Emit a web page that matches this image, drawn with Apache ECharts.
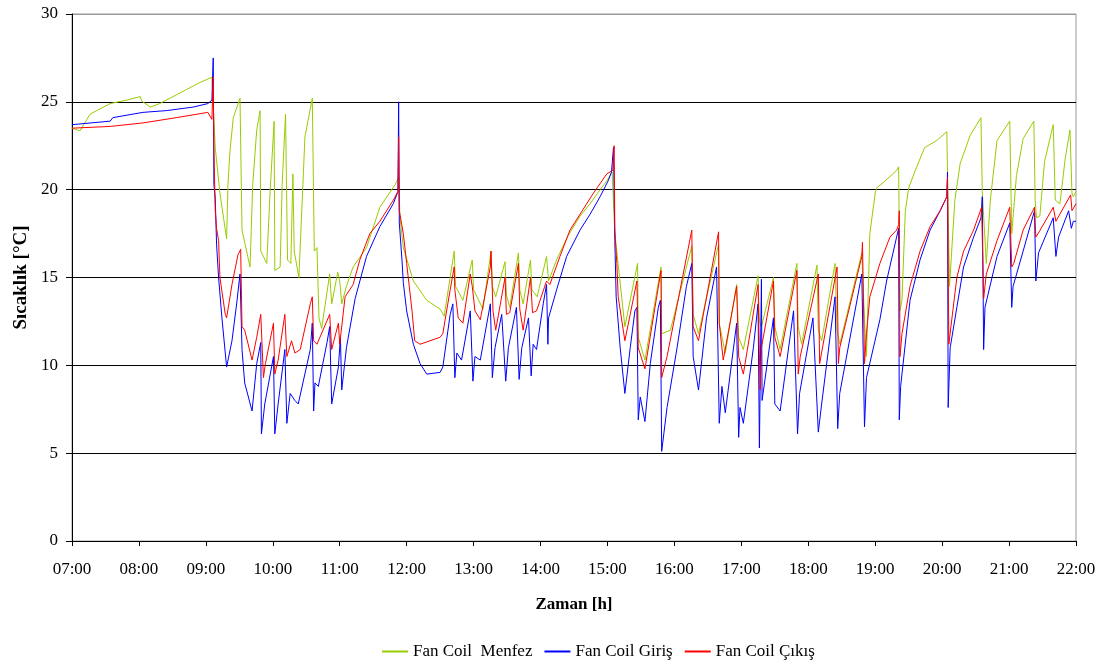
<!DOCTYPE html>
<html>
<head>
<meta charset="utf-8">
<script src="https://cdn.jsdelivr.net/npm/echarts@6/dist/echarts.min.js"></script>
<style>
html,body{margin:0;padding:0;background:#fff;}
#chart{width:1103px;height:664px;}
</style>
</head>
<body>
<div id="chart"></div>
<script>
// Time in decimal hours, temperature in °C
const seriesNames = ['Fan Coil  Menfez', 'Fan Coil Giriş', 'Fan Coil Çıkış'];
const xTickHours = [7,8,9,10,11,12,13,14,15,16,17,18,19,20,21,22];
const yTicks = [0,5,10,15,20,25,30];

const menfez = [[7.00,23.5],[7.12,23.35],[7.27,24.3],[7.57,24.9],[7.82,25.1],[8.02,25.3],[8.04,25.05],[8.17,24.7],[8.31,24.9],[8.41,25.1],[8.71,25.7],[8.91,26.1],[9.09,26.4],[9.11,26.5],[9.14,22.4],[9.21,19.8],[9.31,17.2],[9.33,20.3],[9.36,22.2],[9.41,24.1],[9.51,25.2],[9.54,17.7],[9.66,15.6],[9.70,20.3],[9.76,23.4],[9.81,24.5],[9.82,16.5],[9.91,15.8],[9.96,19.9],[10.02,23.9],[10.03,15.4],[10.11,15.6],[10.14,20.3],[10.19,24.3],[10.22,16.0],[10.27,15.8],[10.30,20.9],[10.32,16.5],[10.39,15.0],[10.45,20.3],[10.48,23.0],[10.59,25.2],[10.62,16.5],[10.66,16.7],[10.69,12.7],[10.73,12.1],[10.85,15.2],[10.88,13.5],[10.97,15.3],[11.00,14.8],[11.03,13.5],[11.10,14.5],[11.20,15.6],[11.40,16.7],[11.60,19.0],[11.83,20.3],[11.88,20.7],[11.90,18.4],[11.95,16.7],[12.10,14.8],[12.30,13.7],[12.50,13.2],[12.56,12.8],[12.71,16.5],[12.73,14.5],[12.84,13.7],[12.98,16.0],[13.00,14.3],[13.14,13.2],[13.26,16.5],[13.28,14.5],[13.33,13.9],[13.47,15.9],[13.49,14.0],[13.54,13.3],[13.67,16.4],[13.69,14.3],[13.74,13.5],[13.85,16.0],[13.87,14.3],[13.95,13.9],[14.09,16.2],[14.12,14.8],[14.24,16.0],[14.40,17.3],[14.59,18.5],[14.74,19.2],[14.89,20.0],[14.99,20.5],[15.07,21.0],[15.09,21.1],[15.11,17.5],[15.26,12.2],[15.45,15.8],[15.46,11.6],[15.56,10.3],[15.80,15.6],[15.81,11.8],[15.94,12.0],[16.26,16.8],[16.28,12.9],[16.36,11.8],[16.66,16.9],[16.67,12.4],[16.76,10.7],[16.93,14.6],[16.96,11.6],[17.03,10.9],[17.25,15.1],[17.27,12.5],[17.30,12.2],[17.48,15.0],[17.50,12.2],[17.58,10.9],[17.83,15.8],[17.85,12.2],[17.90,11.2],[18.13,15.7],[18.15,12.0],[18.20,11.4],[18.40,15.8],[18.43,12.0],[18.47,11.2],[18.80,16.4],[18.84,12.6],[18.87,10.5],[18.92,17.5],[19.00,19.8],[19.02,20.1],[19.12,20.4],[19.32,21.1],[19.35,21.3],[19.37,13.1],[19.40,13.7],[19.45,18.8],[19.50,20.1],[19.62,21.3],[19.74,22.4],[19.92,22.8],[20.07,23.3],[20.11,14.5],[20.19,19.4],[20.27,21.5],[20.42,23.1],[20.58,24.1],[20.60,19.9],[20.66,15.8],[20.72,19.4],[20.82,22.8],[21.01,23.9],[21.04,17.5],[21.11,20.8],[21.21,22.9],[21.37,23.9],[21.39,19.4],[21.41,18.4],[21.46,18.5],[21.53,21.6],[21.66,23.7],[21.69,19.4],[21.76,19.2],[21.84,21.8],[21.91,23.4],[21.94,19.8],[21.96,19.6],[22.00,19.9]];

const giris = [[7.00,23.7],[7.57,23.9],[7.61,24.1],[8.06,24.4],[8.41,24.5],[8.81,24.7],[9.03,24.9],[9.09,25.1],[9.11,27.5],[9.12,20.3],[9.14,19.5],[9.16,16.9],[9.19,15.0],[9.24,12.7],[9.31,9.9],[9.39,11.4],[9.46,13.5],[9.51,15.2],[9.54,10.9],[9.58,9.0],[9.69,7.4],[9.76,10.1],[9.82,11.3],[9.83,6.1],[9.88,7.8],[10.01,10.5],[10.03,6.1],[10.08,7.8],[10.18,10.9],[10.21,6.7],[10.26,8.4],[10.33,8.0],[10.38,7.8],[10.56,10.9],[10.59,12.4],[10.61,7.4],[10.63,9.0],[10.68,8.8],[10.81,11.3],[10.85,12.2],[10.88,7.8],[10.98,9.9],[11.01,11.6],[11.03,8.6],[11.10,11.0],[11.23,13.8],[11.40,16.2],[11.60,17.9],[11.80,19.2],[11.87,19.9],[11.88,25.0],[11.89,18.1],[11.93,16.0],[11.95,14.7],[12.00,13.1],[12.10,11.2],[12.20,10.1],[12.30,9.5],[12.50,9.6],[12.54,9.9],[12.65,12.9],[12.69,13.5],[12.72,9.3],[12.75,10.7],[12.82,10.3],[12.95,13.1],[12.99,9.1],[13.02,10.5],[13.10,10.3],[13.25,13.5],[13.28,9.3],[13.32,11.0],[13.42,12.9],[13.48,9.1],[13.52,11.0],[13.64,13.3],[13.68,9.2],[13.72,11.0],[13.82,12.7],[13.86,9.4],[13.89,11.2],[13.94,10.9],[14.04,13.5],[14.09,14.6],[14.11,11.2],[14.12,12.7],[14.24,14.3],[14.39,16.2],[14.59,17.7],[14.74,18.6],[14.89,19.6],[15.01,20.5],[15.06,21.0],[15.09,22.4],[15.11,17.1],[15.13,13.9],[15.19,11.0],[15.26,8.4],[15.34,11.0],[15.41,13.1],[15.44,13.3],[15.46,6.9],[15.49,8.2],[15.56,6.8],[15.64,10.1],[15.76,13.3],[15.79,13.7],[15.81,5.1],[15.89,7.6],[16.04,11.0],[16.18,14.5],[16.26,15.8],[16.28,10.5],[16.36,8.6],[16.48,12.7],[16.63,15.6],[16.67,6.7],[16.71,8.8],[16.76,7.3],[16.93,12.4],[16.96,5.9],[16.98,7.6],[17.03,6.7],[17.18,11.0],[17.25,13.5],[17.27,5.3],[17.30,14.9],[17.31,8.0],[17.48,12.7],[17.50,7.8],[17.58,7.4],[17.78,13.1],[17.84,6.1],[17.87,8.4],[18.07,12.7],[18.15,6.2],[18.20,7.8],[18.40,13.9],[18.44,6.4],[18.47,8.4],[18.80,15.2],[18.84,6.5],[18.87,9.3],[19.07,12.6],[19.17,14.8],[19.32,17.3],[19.35,17.8],[19.36,6.9],[19.38,8.8],[19.52,13.7],[19.67,16.0],[19.82,17.7],[19.97,18.8],[20.07,19.6],[20.08,21.0],[20.09,7.6],[20.12,11.0],[20.22,13.3],[20.32,15.6],[20.47,17.3],[20.58,18.4],[20.60,19.6],[20.62,10.9],[20.64,13.3],[20.82,16.2],[21.01,18.1],[21.04,13.3],[21.06,14.5],[21.21,16.5],[21.38,18.8],[21.40,14.8],[21.44,16.4],[21.66,18.4],[21.70,16.2],[21.74,17.3],[21.89,18.8],[21.93,17.8],[21.96,18.2],[22.00,18.2]];

const cikis = [[7.00,23.5],[7.57,23.6],[8.06,23.8],[8.56,24.1],[9.03,24.4],[9.09,24.0],[9.11,26.4],[9.12,22.4],[9.14,18.8],[9.16,17.8],[9.19,17.1],[9.21,15.0],[9.29,12.9],[9.31,12.7],[9.39,14.6],[9.48,16.3],[9.52,16.6],[9.54,12.2],[9.58,12.0],[9.69,10.3],[9.76,11.6],[9.82,12.9],[9.86,9.3],[9.89,10.1],[10.01,12.4],[10.03,9.5],[10.08,10.3],[10.18,12.9],[10.21,10.5],[10.28,11.4],[10.33,10.7],[10.41,10.9],[10.56,13.5],[10.59,13.9],[10.61,11.4],[10.66,11.2],[10.85,12.9],[10.88,10.9],[10.98,12.4],[11.00,11.2],[11.08,13.9],[11.20,14.6],[11.30,16.0],[11.45,17.5],[11.60,18.2],[11.80,19.4],[11.87,19.9],[11.88,23.0],[11.89,18.8],[11.95,17.5],[12.00,15.8],[12.08,13.1],[12.12,11.4],[12.20,11.2],[12.50,11.6],[12.54,11.8],[12.65,14.3],[12.71,15.6],[12.72,14.3],[12.77,12.7],[12.84,12.4],[12.95,15.2],[12.98,14.5],[13.02,13.1],[13.10,12.6],[13.25,15.6],[13.26,16.5],[13.29,13.1],[13.33,12.0],[13.47,15.0],[13.49,12.9],[13.54,13.0],[13.67,15.8],[13.69,13.2],[13.74,12.0],[13.85,15.0],[13.88,13.0],[13.94,13.1],[14.09,14.8],[14.14,14.6],[14.29,16.2],[14.44,17.7],[14.59,18.6],[14.79,19.8],[14.99,20.9],[15.08,21.1],[15.10,22.5],[15.11,17.7],[15.14,15.8],[15.16,13.9],[15.26,11.4],[15.44,14.8],[15.46,11.0],[15.56,9.8],[15.80,15.4],[15.81,9.3],[15.89,10.5],[16.26,17.7],[16.28,12.2],[16.36,11.4],[16.66,17.6],[16.67,12.4],[16.73,10.3],[16.93,14.5],[16.96,10.5],[17.03,9.5],[17.25,14.6],[17.28,8.6],[17.30,11.0],[17.48,14.8],[17.50,11.6],[17.58,10.5],[17.83,15.4],[17.85,9.5],[17.88,10.5],[18.15,15.2],[18.17,10.1],[18.43,15.6],[18.45,10.1],[18.47,11.0],[18.80,16.2],[18.81,17.0],[18.84,10.1],[18.87,11.8],[18.92,13.9],[19.07,15.8],[19.22,17.3],[19.32,17.7],[19.35,18.0],[19.36,18.8],[19.37,10.5],[19.40,11.8],[19.52,14.5],[19.67,16.5],[19.82,17.9],[19.97,18.8],[20.07,19.6],[20.08,20.7],[20.10,11.2],[20.22,15.0],[20.32,16.5],[20.47,17.7],[20.59,19.0],[20.62,13.8],[20.66,15.2],[20.82,17.1],[21.01,19.0],[21.04,15.6],[21.07,15.8],[21.21,17.7],[21.38,19.0],[21.40,17.3],[21.45,17.6],[21.66,19.0],[21.70,18.2],[21.92,19.7],[21.94,18.8],[22.00,19.2]];

const colors = ['#99CC00', '#0000FF', '#FF0000'];
const font = "'Liberation Serif', 'Times New Roman', serif";

const chart = echarts.init(document.getElementById('chart'), null, {renderer: 'canvas'});
const pad = h => (h < 10 ? '0' : '') + h + ':00';

chart.setOption({
  animation: false,
  backgroundColor: '#fff',
  grid: {left: 72, right: 27, top: 14, bottom: 123, show: true, borderColor: '#9a9a9a', borderWidth: 1},
  legend: {
    data: seriesNames,
    left: 377, top: 638,
    itemWidth: 26, itemHeight: 2, itemGap: 12,
    icon: 'rect',
    textStyle: {fontFamily: font, fontSize: 17, color: '#000'}
  },
  xAxis: {
    type: 'value',
    min: xTickHours[0], max: xTickHours[xTickHours.length - 1], interval: 1,
    name: 'Zaman [h]', nameLocation: 'middle', nameGap: 55,
    nameTextStyle: {fontFamily: font, fontSize: 17, fontWeight: 'bold', color: '#000'},
    axisLine: {show: true, lineStyle: {color: '#000', width: 1}},
    axisTick: {show: true, length: 5, lineStyle: {color: '#000'}},
    axisLabel: {fontFamily: font, fontSize: 17, color: '#000', margin: 20, formatter: v => pad(v)},
    splitLine: {show: false}
  },
  yAxis: {
    type: 'value',
    min: yTicks[0], max: yTicks[yTicks.length - 1], interval: 5,
    name: 'Sıcaklık [°C]', nameLocation: 'middle', nameGap: 41, nameRotate: 90,
    nameTextStyle: {fontFamily: font, fontSize: 19, fontWeight: 'bold', color: '#000'},
    axisLine: {show: true, lineStyle: {color: '#000', width: 1}},
    axisTick: {show: true, length: 6, lineStyle: {color: '#000'}},
    axisLabel: {fontFamily: font, fontSize: 17, color: '#000', margin: 14},
    splitLine: {show: true, lineStyle: {color: ['#000','#000','#000','#000','#000','#000','#9a9a9a'], width: 1}}
  },
  series: [
    {name: seriesNames[0], type: 'line', data: menfez, showSymbol: false, symbol: 'none', lineStyle: {color: colors[0], width: 1}, itemStyle: {color: colors[0]}},
    {name: seriesNames[1], type: 'line', data: giris, showSymbol: false, symbol: 'none', lineStyle: {color: colors[1], width: 1}, itemStyle: {color: colors[1]}},
    {name: seriesNames[2], type: 'line', data: cikis, showSymbol: false, symbol: 'none', lineStyle: {color: colors[2], width: 1}, itemStyle: {color: colors[2]}}
  ]
});
</script>
</body>
</html>
